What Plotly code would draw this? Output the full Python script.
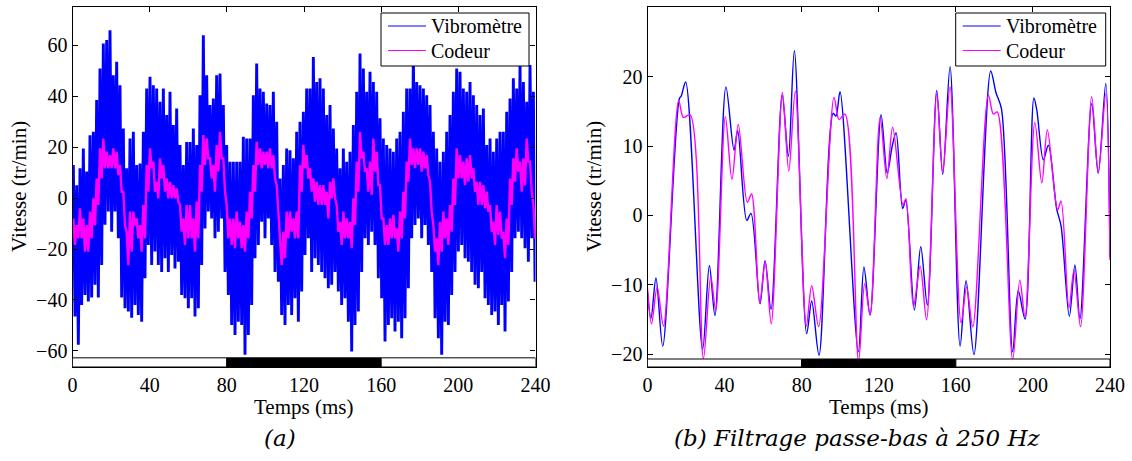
import numpy as np
import plotly.graph_objects as go

# ---------------- data: panel (a) raw signals (envelopes read per 1.728 ms window) ----------------
DT = 1.728          # ms per read window
T0 = 0.43           # ms, first window centre

vib_upper = [13, 5, 11.7, 19.5, 10.4, 24.7, 26, 38.5, 50.9, 60.7, 62, 65.9, 48.2, 53.5, 44.3, 27.3, 11.7, 23.4, 26, 13,
             13.6, 26, 43, 47.6, 44.3, 43, 37.8, 43, 32.6, 41.7, 28.7, 35.2, 20.8, 13, 22, 22, 27.3, 20.8, 40.4, 63.9,
             48.2, 36.5, 39.1, 48.2, 48.9, 36.5, 20.8, 14.3, 14.3, 14.3, 14.3, 24.1, 23.4, 23.4, 40.4, 52.8, 43, 41.7, 37.1, 36.5,
             41.7, 30, 7.7, 13, 19.5, 18.8, 15.6, 26, 30, 33.9,
             43, 43, 55.4, 45.6, 47, 43, 32.6, 36.5, 27.3, 19.5, 11.7, 19.5, 14.3, 18.2, 28.7, 41.7, 56.7, 50.9, 41.7, 49.6,
             45.6, 41.7, 31.3, 23.4, 20.8, 19.5, 18.2, 23.4, 26, 33.9, 43, 43, 55.4, 45.6, 44.3, 43, 40.4, 36.5, 26, 19.5,
             14.3, 18.2, 26, 32.6, 41.7, 50.9, 49.6, 43, 41.7, 45.6, 40.4, 36.5, 32.6, 35.2, 20.8, 23.4, 18.2, 23.4, 26, 26,
             33.9, 39.1, 47, 43, 52.2, 45.6, 37.8, 52.2, 41.7]
vib_lower = [-46.5, -57.6, -42, -38, -40.6, -39, -34, -39, -26.3, -10.5, -5.3, -13.2, -5.3, -15.8, -39, -43.2, -44.5, -47, -42, -45.9,
             -48.5, -31.5, -18.4, -26.3, -21, -26.3, -29, -23.6, -29, -22.3, -27.6, -25, -38, -39.3, -43.2, -39.3, -46.5, -43.2, -26.3, -11.9,
             -5.3, -8, -15.8, -13.2, -8, -29, -38, -49.8, -53.7, -48.5, -49.8, -61.5, -53.7, -42, -23.6, -18.4, -9.3, -15.8, -8, -18.4,
             -29, -32.8, -45.9, -49.8, -42, -45.9, -39.3, -48.5, -36.7, -22.3,
             -15.8, -29, -23.6, -26.3, -29, -31.5, -35.4, -34, -29, -36.7, -42, -39.3, -48.5, -60.2, -49.8, -44.5, -29, -15.8, -18.4, -13.2,
             -18.4, -31.5, -39.3, -56.3, -49.8, -47.2, -52.4, -48.5, -55, -47.2, -35.4, -15.8, -10.6, -8, -15.8, -10.6, -18.4, -29, -47.2, -55,
             -61.5, -48.5, -49.8, -38, -29, -21, -18.4, -23.6, -25, -29, -34, -35.4, -29, -39.3, -42, -45.9, -44.5, -49.8, -42, -52.4,
             -40.6, -29, -15.8, -13.2, -15.8, -19.7, -25, -15.8, -32.8]
cod_upper = [-8, -10.6, -4, -8, -10.6, -5.3, -0.1, 7.7, 19.5, 23.4, 18.2, 16.9, 19.5, 18.2, 13, 2.5, -13.2, -5.3, -5.3, -8,
             -10.6, -2.7, 13, 19.5, 14.3, 6.4, 15.6, 13, 7.7, 6.4, 5.1, 3.8, -2.7, -8, -2.7, -2.7, -8, -1.4, 13, 24.7,
             23.4, 15.6, 13, 20.8, 26, 15.6, -2.7, -8, -8, -5.3, -9.3, -10.6, -5.3, 2.5, 13, 22.1, 19.5, 18.2, 18.2, 19.5,
             16.9, 5.1, -15.8, -13.2, -5.3, -5.3, -8, -5.3, 13, 20.8,
             16.9, 11.7, 7.7, 6.4, 5.1, 5.1, 2.5, 6.4, 7.7, -2.7, -9.3, -5.3, -8, -9.3, -0.1, 14.3, 26, 18.2, 11.7, 14.3,
             23.4, 18.2, 5.1, -8, -10.6, -8, -6.6, -11.9, -5.3, 2.5, 14.3, 23.4, 19.5, 19.5, 19.5, 18.2, 16.9, 6.4, -10.6, -15.8,
             -9.3, -5.3, -8, -2.7, 7.7, 19.5, 16.9, 14.3, 15.6, 16.9, 11.7, 6.4, 6.4, 5.1, 2.5, -2.7, -9.3, -2.7, -5.3, -13.2,
             -8, 7.7, 15.6, 19.5, 14.3, 15.6, 23.4, 14.3, -2.7]
cod_lower = [-18.4, -15.8, -15.8, -21, -21, -15.8, -10.6, -2.7, 7.7, 11.7, 11.7, 11.7, 11.7, 9.0, 2.5, -10.6, -26.3, -21, -10.6, -15.8,
             -21, -15.8, 2.5, 11.7, 2.5, -0.1, 7.7, 2.5, -0.1, -0.1, -0.1, -1.4, -13.2, -18.4, -15.8, -15.8, -21, -15.8, 2.5, 13,
             15.6, 7.7, 2.5, 10.4, 15.6, 2.5, -15.8, -18.4, -19.7, -15.8, -19.7, -21, -15.8, -8, 2.5, 13, 11.7, 13, 11.7, 11.7,
             7.7, -5.3, -26.3, -23.6, -15.8, -13.2, -15.8, -15.8, 2.5, 11.7,
             7.7, 2.5, -1.4, -2.7, -2.7, -2.7, -8, -0.1, -0.1, -13.2, -18.4, -15.8, -15.8, -19.7, -10.6, 2.5, 15.6, 10.4, 2.5, 1.2,
             10.4, 5.1, -8, -18.4, -18.4, -15.8, -15.8, -21, -15.8, -8, 6.4, 13, 11.7, 13, 10.4, 11.7, 9.0, -5.3, -21, -26.3,
             -21, -15.8, -18.4, -13.2, -2.7, 7.7, 7.7, 5.1, 6.4, 7.7, 2.5, -2.7, -2.7, -4.0, -5.3, -13.2, -18.4, -14.5, -15.8, -23.6,
             -18.4, -2.7, 6.4, 10.4, 2.5, 5.1, 14.3, 2.5, -15.8]

# ---------------- data: panel (b) low-pass filtered (extrema) ----------------
vib_f_t = [0, 1.8, 4.4, 7.9, 16.5, 17.5, 19.8, 28.6, 32.1, 35.0, 40.7, 44.9, 46.8, 51.5, 53.7, 58.4, 61.0, 64.1,
           69.9, 73.1, 76.2, 82.6, 85.2, 89.0, 96.3, 97.8, 99.9, 109.4, 112.3, 115.5, 121.2, 124.4, 127.0, 129.0,
           132.4, 134.0, 138.5, 141.8, 145.2, 150.1, 153.2, 157.0, 162.2, 165.3, 169.4, 178.1, 180.8, 183.7,
           189.5, 192.4, 195.9, 200.5, 202.0, 205.4, 208.0, 212.3, 214.6, 218.9, 221.8, 224.4, 230.5, 233.9, 237.8, 240]
vib_f_v = [-11, -14.8, -9.0, -18.8, 16.8, 17.2, 19.2, -19.3, -7.2, -14.4, 18.5, 9.4, 12.2, -0.7, 0.3, -12.7, -6.5, -13.5,
           17.3, 8.5, 23.7, -17.0, -12.3, -20.1, 14.7, 14.3, 17.8, -19.6, -7.4, -14.3, 14.5, 6.1, 10.0, 11.9,
           1.0, 2.2, -13.6, -4.5, -12.9, 18.0, 5.9, 21.4, -18.8, -9.4, -20.0, 20.8, 17.7, 15.3,
           -19.6, -10.8, -14.9, 16.9, 15.2, 8.0, 10.1, 1.0, -1.5, -14.5, -7.1, -14.9, 16.1, 6.1, 19.0, -6]
cod_f_t = [0, 2.1, 5.0, 8.3, 16.2, 18.6, 22.1, 29.0, 32.8, 35.4, 40.4, 43.8, 47.1, 51.8, 54.0, 58.2, 61.1, 64.2,
           70.0, 73.3, 76.7, 82.4, 85.2, 88.8, 96.8, 99.4, 102.5, 109.5, 112.7, 115.5, 120.7, 124.2, 127.2,
           132.6, 134.1, 138.0, 141.5, 144.8, 150.1, 153.2, 157.0, 162.7, 165.6, 168.8, 176.9, 179.5, 181.5,
           189.5, 193.2, 195.9, 201.0, 204.6, 207.5, 212.8, 214.6, 218.7, 221.3, 224.7, 230.5, 233.9, 237.8, 240]
cod_f_v = [-10.5, -15.6, -10.3, -15.9, 16.5, 14.1, 14.5, -20.6, -8.8, -13.6, 14.2, 5.2, 13.1, 1.9, 3.1, -12.6, -6.7, -15.6,
           17.7, 6.4, 17.9, -15.9, -10.1, -16.0, 17.0, 13.8, 14.6, -21.0, -9.8, -14.3, 14.1, 5.3, 12.7,
           1.5, 2.4, -13.1, -7.3, -15.0, 17.5, 6.2, 18.5, -15.4, -10.3, -16.0, 17.3, 14.6, 14.9,
           -20.7, -9.3, -14.6, 13.4, 4.7, 12.3, 0.8, 2.1, -13.3, -7.9, -16.0, 17.1, 6.1, 17.5, -6.4]

series_names = ["Vibromètre", "Codeur"]
series_colors = ["#0000FF", "#FF00FF"]

x_ticks = [0, 40, 80, 120, 160, 200, 240]
ya_ticks = [-60, -40, -20, 0, 20, 40, 60]
yb_ticks = [-20, -10, 0, 10, 20]

# time bar under each panel: segment edges (ms) and fills
bar_edges = [0, 80, 160, 240]
bar_fills = ["white", "black", "white"]

# ---------------- build ----------------
t_win = T0 + DT * np.arange(len(vib_upper))


def zigzag(up, lo):
    x = np.empty(2 * len(up))
    y = np.empty(2 * len(up))
    x[0::2] = t_win
    x[1::2] = t_win + DT / 2
    y[0::2] = up
    y[1::2] = lo
    return x, y


FONT = "Liberation Serif"
W, H = 1132, 461
fig = go.Figure()

xv, yv = zigzag(vib_upper, vib_lower)
fig.add_trace(go.Scatter(x=xv, y=yv, mode="lines", name=series_names[0], showlegend=False,
                         line=dict(color=series_colors[0], width=2.9, simplify=False),
                         xaxis="x", yaxis="y"))
xc, yc = zigzag(cod_upper, cod_lower)
fig.add_trace(go.Scatter(x=xc, y=yc, mode="lines", name=series_names[1], showlegend=False,
                         line=dict(color=series_colors[1], width=2.4, simplify=False),
                         xaxis="x", yaxis="y"))

fig.add_trace(go.Scatter(x=vib_f_t, y=vib_f_v, mode="lines", name=series_names[0], showlegend=False,
                         line=dict(color=series_colors[0], width=1.4, shape="spline", smoothing=0.9),
                         xaxis="x2", yaxis="y2"))
fig.add_trace(go.Scatter(x=cod_f_t, y=cod_f_v, mode="lines", name=series_names[1], showlegend=False,
                         line=dict(color=series_colors[1], width=1.4, shape="spline", smoothing=0.9),
                         xaxis="x2", yaxis="y2"))

xa_dom = [72.5 / W, 535.5 / W]
xb_dom = [647.5 / W, 1110 / W]
y_dom = [1 - 367 / H, 1 - 7 / H]
ya_range = [-66.3, 75]
yb_range = [-21.8, 30]
ya_bar_top = -62.7
yb_bar_top = -20.65

axis_common = dict(showline=True, linecolor="black", linewidth=1.2, mirror="ticks", ticks="inside",
                   ticklen=5, tickcolor="black", tickwidth=1, showgrid=False, zeroline=False,
                   automargin=False, tickfont=dict(family=FONT, size=20, color="black"))

fig.update_layout(
    width=W, height=H, margin=dict(l=0, r=0, t=0, b=0, autoexpand=False),
    paper_bgcolor="white", plot_bgcolor="white", showlegend=False,
    xaxis=dict(domain=xa_dom, range=[0, 240], tickvals=x_ticks, anchor="y", **axis_common),
    yaxis=dict(domain=y_dom, range=ya_range, tickvals=ya_ticks, anchor="x", **axis_common),
    xaxis2=dict(domain=xb_dom, range=[0, 240], tickvals=x_ticks, anchor="y2", **axis_common),
    yaxis2=dict(domain=y_dom, range=yb_range, tickvals=yb_ticks, anchor="x2", **axis_common),
)

# time bars
for xr, yr, top in (("x", "y", ya_bar_top), ("x2", "y2", yb_bar_top)):
    for i, fill in enumerate(bar_fills):
        fig.add_shape(type="rect", xref=xr, yref=yr, x0=bar_edges[i], x1=bar_edges[i + 1],
                      y0=(ya_range if yr == "y" else yb_range)[0], y1=top,
                      fillcolor=fill, line=dict(color="black", width=1), layer="above")

# legends (boxed, upper right of each panel), built from series names/colours
leg_font = dict(family=FONT, size=20, color="black")
for box_l, box_r in ((381, 529), (955.7, 1105.7)):
    fig.add_shape(type="rect", xref="paper", yref="paper", x0=box_l / W, x1=box_r / W,
                  y0=1 - 66 / H, y1=1 - 13 / H, fillcolor="white",
                  line=dict(color="black", width=1), layer="above")
    for k, (name, col) in enumerate(zip(series_names, series_colors)):
        ly = 1 - (26 + 24.5 * k) / H
        fig.add_shape(type="line", xref="paper", yref="paper", x0=(box_l + 7) / W, x1=(box_l + 45) / W,
                      y0=ly, y1=ly, line=dict(color=col, width=1.2), layer="above")
        fig.add_annotation(text=name, x=(box_l + 48) / W, y=ly, xref="paper", yref="paper",
                           showarrow=False, font=leg_font, xanchor="left", yanchor="middle")

# axis titles and captions
ann_font = dict(family=FONT, size=21, color="black")
for cx in (sum(xa_dom) / 2, sum(xb_dom) / 2):
    fig.add_annotation(text="Temps (ms)", x=cx, y=1 - 407 / H, xref="paper", yref="paper",
                       showarrow=False, font=ann_font, xanchor="center", yanchor="middle")
for lx in (19 / W, 594 / W):
    fig.add_annotation(text="Vitesse (tr/min)", x=lx, y=sum(y_dom) / 2, xref="paper", yref="paper",
                       showarrow=False, font=ann_font, textangle=-90, xanchor="center", yanchor="middle")
cap_font = dict(family="DejaVu Serif", size=23, color="black")
fig.add_annotation(text="<i>(a)</i>", x=280 / W, y=1 - 438 / H, xref="paper", yref="paper",
                   showarrow=False, font=cap_font, xanchor="center", yanchor="middle")
fig.add_annotation(text="<i>(b) Filtrage passe-bas à 250 Hz</i>", x=857 / W, y=1 - 438 / H,
                   xref="paper", yref="paper", showarrow=False, font=cap_font,
                   xanchor="center", yanchor="middle")

# the page's default 8px body margin would shift the fixed-size figure; remove it
fig.write_html("out.html", config={"displayModeBar": False},
               post_script="document.body.style.margin='0';document.body.style.overflow='hidden';")
